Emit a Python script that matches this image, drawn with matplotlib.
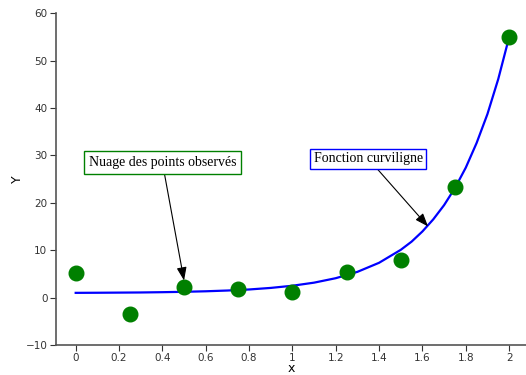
import matplotlib
matplotlib.use("Agg")
import matplotlib.pyplot as plt

# observed points
x_obs = [0, 0.25, 0.5, 0.75, 1.0, 1.25, 1.5, 1.75, 2.0]
y_obs = [5.1, -3.4, 2.2, 1.8, 1.1, 5.5, 7.9, 23.3, 55.0]

# fitted curve, values
x_fit = [0, 0.1, 0.2, 0.3, 0.4, 0.5, 0.6, 0.7, 0.8, 0.9, 1.0, 1.1, 1.2, 1.3,
         1.4, 1.5, 1.55, 1.6, 1.65, 1.7, 1.75, 1.8, 1.85, 1.9, 1.95, 2.0]
y_fit = [1.0, 1.02, 1.05, 1.08, 1.14, 1.22, 1.33, 1.49, 1.71, 2.04, 2.5, 3.15,
         4.09, 5.43, 7.34, 10.07, 11.8, 13.95, 16.5, 19.5, 23.1, 27.4, 32.6,
         38.7, 46.1, 54.9]

xticks = [0, 0.2, 0.4, 0.6, 0.8, 1, 1.2, 1.4, 1.6, 1.8, 2]
xlabels = ["0", "0.2", "0.4", "0.6", "0.8", "1", "1.2", "1.4", "1.6", "1.8", "2"]
yticks = [-10, 0, 10, 20, 30, 40, 50, 60]

fig = plt.figure(figsize=(5.26, 3.75), dpi=100)
ax = fig.add_axes([0.106, 0.08, 0.894, 0.885])

ax.plot(x_fit, y_fit, color="blue", lw=1.6, zorder=2)
ax.plot(x_obs, y_obs, "o", color="green", ms=10.5, zorder=3)

ax.set_xlim(-0.092, 2.078)
ax.set_ylim(-10, 60)
ax.set_xticks(xticks)
ax.set_xticklabels(xlabels)
ax.set_yticks(yticks)
ax.tick_params(direction="out", length=4, labelsize=7.5, colors="#333333", pad=2)
for s in ["top", "right"]:
    ax.spines[s].set_visible(False)
for s in ["left", "bottom"]:
    ax.spines[s].set_color("#555555")
    ax.spines[s].set_linewidth(1.2)
ax.set_xlabel("x", fontsize=9, va="center")
ax.set_ylabel("Y", fontsize=9, va="center")
ax.xaxis.set_label_coords(0.5, -0.072)
ax.yaxis.set_label_coords(-0.081, 0.5)

arr = dict(arrowstyle="-|>,head_length=0.8,head_width=0.3", color="black", lw=0.8,
           shrinkA=0, shrinkB=0)
ax.annotate("Nuage des points observés", xy=(0.5, 3.6), xytext=(0.40, 28.5),
            ha="center", va="center", family="Liberation Serif", fontsize=10,
            bbox=dict(boxstyle="square,pad=0.35", fc="white", ec="green"),
            arrowprops=arr)
ax.annotate("Fonction curviligne", xy=(1.626, 15.0), xytext=(1.35, 29.3),
            ha="center", va="center", family="Liberation Serif", fontsize=10,
            bbox=dict(boxstyle="square,pad=0.25", fc="white", ec="blue"),
            arrowprops=arr)

fig.savefig("out.png", dpi=100)
